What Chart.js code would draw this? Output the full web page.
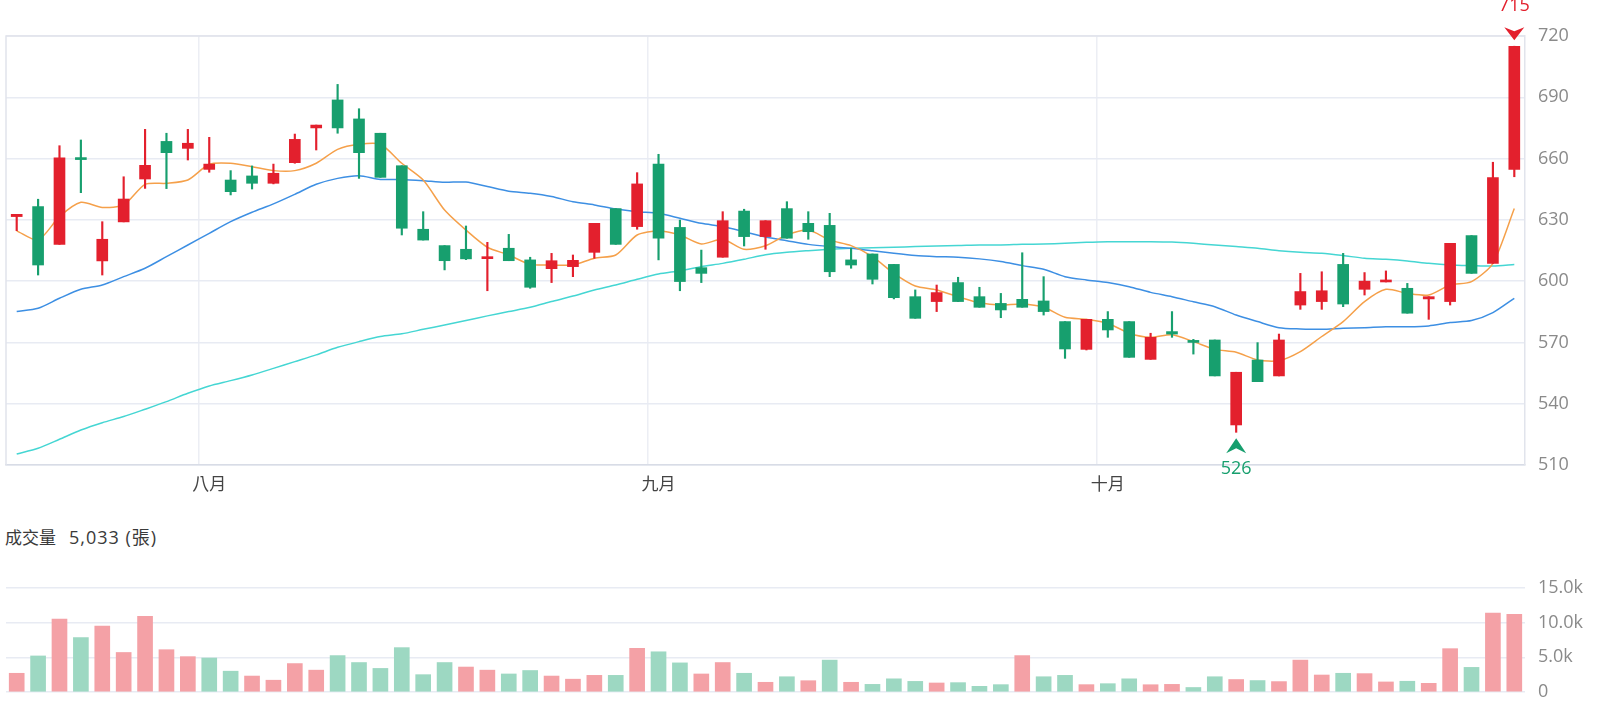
<!DOCTYPE html>
<html>
<head>
<meta charset="utf-8">
<script src="https://cdn.jsdelivr.net/npm/chart.js@4.4.0/dist/chart.umd.min.js"></script>
<style>
  html, body { margin: 0; padding: 0; background: #fff; width: 1600px; height: 721px; overflow: hidden; }
  #wrap { position: relative; width: 1600px; height: 721px; }
  #main { position: absolute; left: 0; top: 0; }
  #vol { position: absolute; left: 0; top: 500px; }
  #volTitle { position: absolute; left: 5px; top: 526px; line-height: 22px; font-size: 17px;
              font-family: "Open Sans", "Noto Sans CJK TC", sans-serif; color: #3a3a3a; white-space: pre; }
  #volTitle .v { margin-left: 13px; font-size: 18px; letter-spacing: 1px; }
</style>
</head>
<body>
<div id="wrap">
  <canvas id="main" width="1600" height="500"></canvas>
  <div id="volTitle">成交量<span class="v">5,033 (張)</span></div>
  <canvas id="vol" width="1600" height="221"></canvas>
</div>
<script>
// ---- data ----
const monthNames = ['七月', '八月', '九月', '十月'];
const monthDays  = [9, 21, 21, 20];          // trading days shown in each month

const opens  = [631.6,636.5,618.0,660.2,609.9,629.0,650.0,668.4,665.0,654.7,649.5,651.5,647.9,658.0,675.0,688.7,679.4,672.4,656.5,625.4,
                617.4,615.6,611.0,616.1,610.4,606.1,607.1,614.1,635.5,626.7,657.3,626.3,606.6,611.7,634.3,621.8,635.5,628.3,627.3,610.4,
                613.3,608.2,592.4,590.0,599.3,592.4,589.1,591.1,590.3,580.2,566.6,581.3,580.2,561.7,575.3,571.0,571.2,529.6,561.4,553.6,
                588.3,590.0,608.2,596.0,599.6,596.5,591.3,590.0,622.3,608.7,654.7];
const highs  = [632.7,640.1,666.3,669.1,629.1,651.1,674.3,672.4,674.3,670.4,654.1,656.4,657.3,672.0,676.4,696.3,684.4,672.4,656.5,634.0,
                617.4,627.0,619.0,622.9,611.7,613.6,612.8,628.3,635.5,653.1,662.1,629.9,615.2,634.0,635.2,629.6,638.9,634.0,633.2,616.1,
                613.3,608.2,595.7,598.1,601.9,597.0,594.0,613.9,602.2,580.2,581.3,585.1,580.2,574.5,585.1,571.5,571.2,555.4,569.9,574.1,
                603.8,604.6,613.6,604.2,605.0,598.9,592.4,618.5,622.3,658.2,715.0];
const lows   = [624.7,603.0,618.0,643.3,603.0,629.0,645.4,645.3,659.3,653.3,642.2,645.1,647.6,657.7,664.2,672.4,650.3,650.8,622.6,620.1,
                605.5,610.5,595.3,610.0,596.5,599.3,602.2,611.2,618.0,625.4,610.4,595.3,599.3,611.7,617.2,615.6,621.0,620.5,602.2,606.3,
                598.6,591.3,581.8,585.1,590.0,587.2,582.1,587.2,583.4,562.2,566.3,572.5,562.7,561.7,572.5,564.3,553.6,526.0,550.8,553.6,
                586.2,586.2,587.5,593.2,599.6,584.3,581.3,588.3,603.8,608.7,651.1];
const closes = [632.7,607.9,660.4,659.5,620.5,640.2,656.7,662.9,667.5,657.3,643.8,647.9,652.8,669.4,676.4,675.0,662.9,650.8,625.9,620.1,
                610.0,610.9,611.7,610.0,597.0,610.0,610.2,628.3,618.0,647.6,621.0,599.8,603.8,629.6,621.8,629.6,621.0,624.2,604.6,607.9,
                600.9,591.9,581.8,594.4,590.0,587.2,585.9,587.2,585.1,566.8,581.3,576.1,562.7,572.5,574.1,570.0,553.6,555.4,550.8,571.2,
                594.9,595.3,588.8,600.0,600.3,584.3,592.4,618.5,603.8,650.7,715.0];

const ma5  = [624.6,620.1,631.6,638.6,636.1,637.3,647.4,647.9,649.5,657.2,657.7,656.0,654.1,654.1,657.7,664.5,667.0,667.0,657.7,649.5,
              634.8,625.0,616.6,612.8,608.2,607.9,607.9,611.2,612.8,622.6,624.6,622.6,618.2,620.5,615.6,617.3,622.6,625.0,620.1,617.4,
              612.0,603.8,597.6,595.7,592.4,589.4,588.3,588.8,587.2,582.3,581.3,579.4,574.5,572.5,573.7,570.4,566.6,565.2,561.4,561.1,
              565.5,572.9,580.2,590.0,596.0,594.0,593.2,598.1,599.8,608.7,635.6];
const ma20 = [585.1,586.7,591.6,596.0,598.1,602.2,606.3,612.0,617.7,623.4,629.1,633.7,637.8,642.5,647.4,650.3,651.6,649.8,649.8,649.2,
              648.4,648.5,646.3,644.0,643.0,641.4,638.9,637.3,635.3,634.0,633.2,630.8,628.3,626.7,624.2,621.6,619.8,618.0,616.9,616.1,
              614.9,613.6,612.5,612.0,611.7,610.9,609.6,607.6,605.8,602.2,600.6,599.3,597.3,594.5,592.4,589.9,587.5,583.4,580.2,577.2,
              576.6,576.4,576.9,577.2,577.7,577.7,578.1,579.7,580.7,584.6,591.6];
const ma60 = [515.4,518.2,522.6,527.1,530.7,533.7,537.3,541.0,545.1,548.7,551.3,554.1,557.3,560.6,563.9,567.6,570.4,572.9,574.2,576.4,
              578.5,580.7,583.0,585.1,587.2,590.0,592.7,595.7,598.1,600.9,603.5,605.1,607.1,608.7,610.7,612.9,614.1,614.9,615.6,616.1,
              616.4,616.6,616.9,617.2,617.4,617.7,617.7,618.0,618.2,618.5,619.0,619.3,619.3,619.3,619.1,618.5,617.7,616.9,616.1,614.9,
              614.1,613.6,612.5,611.2,610.7,609.9,608.7,607.9,607.6,607.4,608.2];

const volumes = [2700,5200,10500,7850,9500,5700,10900,6100,5100,4900,3000,2300,1700,4100,3150,5250,4250,3400,6400,2500,
                 4250,3600,3150,2600,3100,2300,1850,2400,2400,6300,5800,4200,2600,4250,2700,1400,2200,1630,4600,1400,
                 1100,1900,1530,1300,1350,820,1060,5250,2200,2400,1060,1200,1900,1050,1100,650,2200,1800,1650,1500,
                 4600,2450,2700,2650,1450,1550,1250,6250,3550,11400,11200];
// 1 = day closed up vs. previous day, 0 = down (colour of the volume bar)
const volUp = [1,0,1,0,1,1,1,1,1,0,0,1,1,1,1,0,0,0,0,0,
               0,1,1,0,0,1,1,1,0,1,0,0,1,1,0,1,0,1,0,1,
               0,0,0,1,0,0,0,1,0,0,1,0,0,1,1,0,0,1,0,1,
               1,1,0,1,1,0,1,1,0,1,1];

const priceTicks = { min: 510, max: 720, step: 30 };
const volTicks   = { min: 0, max: 15000, step: 5000 };

// ---- build ----
const categories = [];
monthNames.forEach((m, k) => { for (let d = 1; d <= monthDays[k]; d++) categories.push(m + '#' + d); });
function monthLabel(i) {
  const c = categories[i];
  if (!c) return '';
  const [m, d] = c.split('#');
  return (d === '1' && i > 0) ? m : '';
}

const RED = '#e3202d', GREEN = '#179f6e';
const VRED = '#f4a1a6', VGREEN = '#9dd8c2';
const FONT = '"Open Sans", "Noto Sans CJK TC", sans-serif';
const GRID = '#e8ebf3';

const bodies = opens.map((o, i) => [o, closes[i]]);
const wicks = lows.map((l, i) => [l, highs[i]]);
const candleColors = opens.map((o, i) => closes[i] >= o ? RED : GREEN);
const volColors = volUp.map(u => u ? VRED : VGREEN);

const framePlugin = {
  id: 'frame',
  beforeDatasetsDraw(chart) {
    const { ctx, chartArea: a } = chart;
    ctx.save();
    ctx.strokeStyle = '#e1e4ec';
    ctx.lineWidth = 1.5;
    ctx.beginPath();
    ctx.moveTo(a.left, a.bottom); ctx.lineTo(a.left, a.top); ctx.lineTo(a.right, a.top);
    ctx.stroke();
    ctx.restore();
  }
};

const markerPlugin = {
  id: 'markers',
  afterDatasetsDraw(chart) {
    const { ctx, scales: { x, y } } = chart;
    const hi = Math.max(...highs), hiIdx = highs.indexOf(hi);
    const lo = Math.min(...lows), loIdx = lows.indexOf(lo);
    ctx.save();
    ctx.font = '18px ' + FONT;
    ctx.textAlign = 'center';
    // high marker
    let cx = x.getPixelForValue(hiIdx), tip = y.getPixelForValue(hi) - 6;
    ctx.fillStyle = RED;
    ctx.beginPath();
    ctx.moveTo(cx, tip); ctx.lineTo(cx - 10, tip - 13); ctx.lineTo(cx, tip - 9); ctx.lineTo(cx + 10, tip - 13);
    ctx.closePath(); ctx.fill();
    ctx.textBaseline = 'alphabetic';
    ctx.fillText(String(Math.round(hi)), cx, tip - 29);
    // low marker
    cx = x.getPixelForValue(loIdx); tip = y.getPixelForValue(lo) + 6;
    ctx.fillStyle = GREEN;
    ctx.beginPath();
    ctx.moveTo(cx, tip); ctx.lineTo(cx - 10, tip + 15); ctx.lineTo(cx, tip + 10); ctx.lineTo(cx + 10, tip + 15);
    ctx.closePath(); ctx.fill();
    ctx.textBaseline = 'middle';
    ctx.fillText(String(Math.round(lo)), cx, tip + 31);
    ctx.restore();
  }
};

const lineDs = (data, color, order) => ({
  type: 'line', data, borderColor: color, borderWidth: 1.5, pointRadius: 0,
  tension: 0.25, fill: false, order
});

new Chart(document.getElementById('main'), {
  type: 'bar',
  data: {
    labels: categories,
    datasets: [
      { type: 'bar', data: bodies, backgroundColor: candleColors, barThickness: 11, grouped: false, minBarLength: 2, order: 0 },
      { type: 'bar', data: wicks, backgroundColor: candleColors, barThickness: 1.5, grouped: false, order: 1 },
      lineDs(ma5, '#f5a04a', 2),
      lineDs(ma20, '#3d8fe3', 3),
      lineDs(ma60, '#45d6d3', 4)
    ]
  },
  options: {
    responsive: false,
    animation: false,
    events: [],
    layout: { padding: { left: 6, top: 36, right: 0, bottom: 0 } },
    plugins: { legend: { display: false }, tooltip: { enabled: false } },
    scales: {
      x: {
        offset: true,
        grid: {
          offset: true, drawTicks: false, lineWidth: 1.5,
          color: ctx => (ctx.tick && ctx.tick.label) ? '#eceef4' : 'rgba(0,0,0,0)'
        },
        border: { display: true, color: '#d8dce6', width: 1.5 },
        ticks: {
          autoSkip: false, maxRotation: 0, minRotation: 0, padding: 10,
          color: '#444', font: { size: 17, family: FONT },
          callback: (v, i) => monthLabel(i)
        },
        afterFit: s => { s.height = 35; }
      },
      y: {
        position: 'right',
        min: priceTicks.min, max: priceTicks.max,
        ticks: { stepSize: priceTicks.step, padding: 13, color: '#8a8a8a', font: { size: 18, family: FONT } },
        grid: { drawTicks: false, color: GRID, lineWidth: 1.5 },
        border: { display: true, color: '#e1e4ec', width: 1.5 },
        afterFit: s => { s.width = 75; }
      }
    }
  },
  plugins: [framePlugin, markerPlugin]
});

new Chart(document.getElementById('vol'), {
  type: 'bar',
  data: {
    labels: categories,
    datasets: [{ data: volumes, backgroundColor: volColors, barThickness: 15 }]
  },
  options: {
    responsive: false,
    animation: false,
    events: [],
    layout: { padding: { left: 6, top: 88, right: 0, bottom: 29 } },
    plugins: { legend: { display: false }, tooltip: { enabled: false } },
    scales: {
      x: { display: false, offset: true },
      y: {
        position: 'right',
        min: volTicks.min, max: volTicks.max,
        ticks: {
          stepSize: volTicks.step, padding: 13, color: '#8a8a8a', font: { size: 18, family: FONT },
          callback: v => v === 0 ? '0' : (v / 1000).toFixed(1) + 'k'
        },
        grid: { drawTicks: false, color: GRID, lineWidth: 1.5 },
        border: { display: false },
        afterFit: s => { s.width = 75; }
      }
    }
  }
});
</script>
</body>
</html>
